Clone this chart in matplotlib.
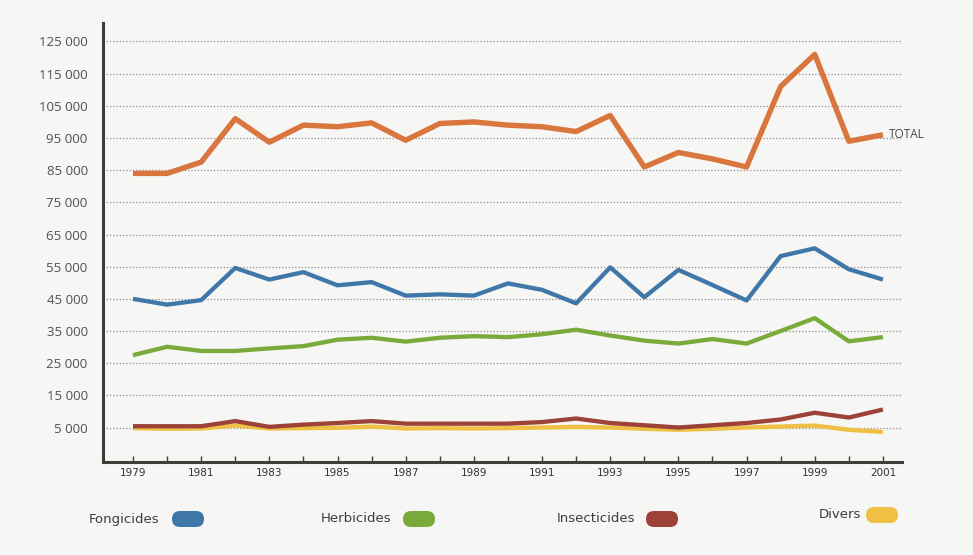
import matplotlib
matplotlib.use("Agg")
import matplotlib.pyplot as plt
from matplotlib.patches import FancyBboxPatch
from matplotlib.ticker import FixedLocator, FuncFormatter

years = list(range(1979, 2002))

total = [84000, 84000, 87500, 101000, 93700, 99000, 98500, 99700, 94300, 99500,
         100000, 99000, 98500, 97000, 102000, 86000, 90500, 88500, 86000, 111000,
         121000, 94000, 96000]
fongicides = [45000, 43200, 44600, 54600, 51000, 53300, 49200, 50200, 46000, 46400,
              46000, 49800, 47800, 43600, 54800, 45500, 54000, 49300, 44500, 58300,
              60700, 54200, 51000]
herbicides = [27500, 30100, 28800, 28800, 29600, 30300, 32300, 32900, 31700, 32900,
              33400, 33100, 34000, 35400, 33600, 32000, 31100, 32500, 31100, 35000,
              39000, 31800, 33100]
insecticides = [5400, 5400, 5400, 7000, 5200, 5900, 6400, 7000, 6200, 6200,
                6200, 6200, 6700, 7800, 6400, 5700, 5000, 5700, 6400, 7500,
                9600, 8100, 10600]
divers = [4800, 4600, 4700, 5600, 4700, 4800, 4900, 5300, 4700, 4800,
          4700, 4800, 5000, 5200, 5000, 4600, 4300, 4600, 5000, 5300,
          5600, 4300, 3600]

series_names = ["Fongicides", "Herbicides", "Insecticides", "Divers"]
ytick_values = list(range(5000, 125001, 10000))
xtick_label_years = list(range(1979, 2002, 2))

c_total = "#d9763e"
c_fong = "#3f77a8"
c_herb = "#7aaa3c"
c_insect = "#9c4238"
c_divers = "#eec043"
series_colors = [c_fong, c_herb, c_insect, c_divers]

bg = "#f6f6f4"
W, H = 973, 555
fig = plt.figure(figsize=(W / 100, H / 100), dpi=100, facecolor=bg)
ax = fig.add_axes([103 / W, 1 - 462 / H, 799 / W, 439 / H], facecolor=bg)

ax.set_xlim(1978.12, 2001.56)
ax.set_ylim(-5720, 130750)

# dotted horizontal guides
for v in ytick_values:
    ax.axhline(v, color="#8e8e8e", lw=0.9, ls=(0, (1, 1.6)), zorder=1)

ax.plot(years, divers, color=c_divers, lw=3.1, solid_capstyle="butt", zorder=3)
ax.plot(years, insecticides, color=c_insect, lw=3.1, solid_capstyle="butt", zorder=4)
ax.plot(years, herbicides, color=c_herb, lw=3.1, solid_capstyle="butt", zorder=4)
ax.plot(years, fongicides, color=c_fong, lw=3.1, solid_capstyle="butt", zorder=4)
ax.plot(years, total, color=c_total, lw=3.9, solid_capstyle="butt", zorder=5)

ax.annotate("TOTAL", xy=(years[-1], total[-1]), xytext=(4, 0),
            textcoords="offset points", va="center", ha="left",
            fontsize=8.5, color="#4a4a4a", family="Open Sans")

for s in ("top", "right"):
    ax.spines[s].set_visible(False)
for s in ("left", "bottom"):
    ax.spines[s].set_color("#3b403b")
    ax.spines[s].set_linewidth(2.2)

ax.yaxis.set_major_locator(FixedLocator(ytick_values))
ax.yaxis.set_major_formatter(FuncFormatter(lambda v, p: f"{int(v):,}".replace(",", " ")))
ax.tick_params(axis="y", length=0, pad=11, labelsize=9.5, labelcolor="#505050")
for lab in ax.get_yticklabels():
    lab.set_family("Open Sans")

ax.set_xticks(years)
ax.set_xticklabels([str(y) if y in xtick_label_years else "" for y in years])
ax.tick_params(axis="x", direction="in", length=4, width=1, color="#3b403b",
               pad=4, labelsize=7.5, labelcolor="#333333")
for lab in ax.get_xticklabels():
    lab.set_family(["Liberation Sans Narrow", "DejaVu Sans"])

# legend: names followed by rounded colour swatches
legend_text_x = [89, 321, 557, 819]
legend_y = [519, 519, 519, 515]
legend_swatch_x = [172, 403, 646, 866]
for name, col, tx, ty, sx in zip(series_names, series_colors, legend_text_x,
                                 legend_y, legend_swatch_x):
    fig.text(tx / W, 1 - ty / H, name, ha="left", va="center", fontsize=9.5,
             color="#3c3c3c", family=["Liberation Sans Narrow", "DejaVu Sans"])
    sw = FancyBboxPatch(((sx) / 100, (H - ty - 8) / 100), 0.32, 0.16,
                        boxstyle="round,pad=0,rounding_size=0.08",
                        transform=fig.dpi_scale_trans, facecolor=col,
                        edgecolor="none")
    fig.add_artist(sw)

fig.savefig("out.png", dpi=100, facecolor=bg)
